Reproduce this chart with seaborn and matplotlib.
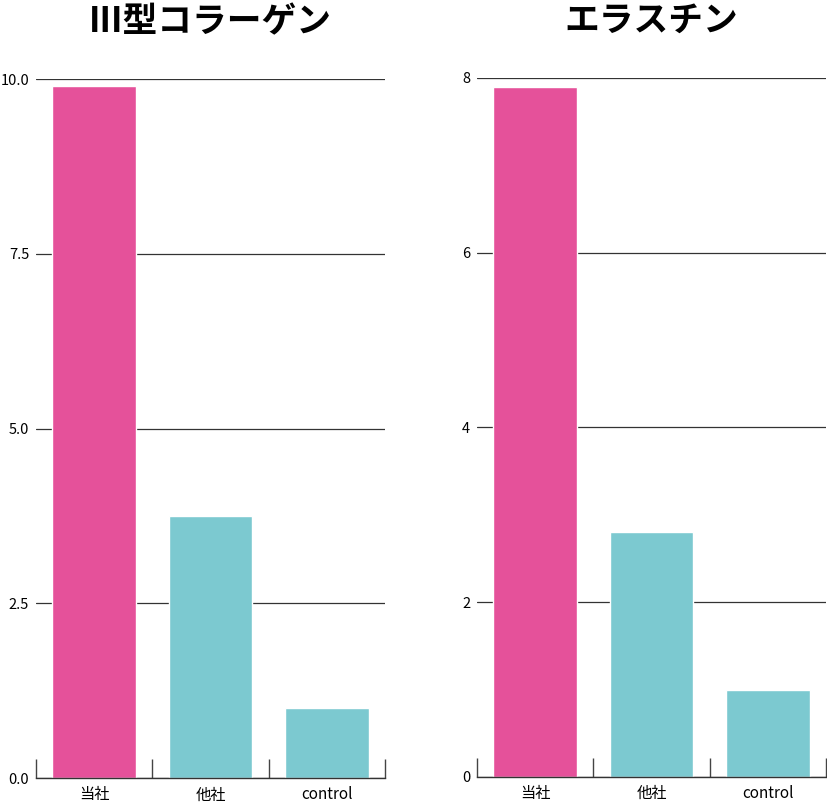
import matplotlib
matplotlib.use("Agg")
import numpy as np
import seaborn as sns
import matplotlib.pyplot as plt
from matplotlib.ticker import FixedLocator

# data
categories = ["当社", "他社", "control"]
collagen_values = [9.9, 3.75, 1.0]
elastin_values = [7.9, 2.8, 1.0]
titles = ["III型コラーゲン", "エラスチン"]
collagen_ticks = [0.0, 2.5, 5.0, 7.5, 10.0]
collagen_labels = ["0.0", "2.5", "5.0", "7.5", "10.0"]
elastin_ticks = [0, 2, 4, 6, 8]
elastin_labels = ["0", "2", "4", "6", "8"]

colors = ["#E5519A", "#7CC9D0", "#7CC9D0"]

sns.set_style("white")
plt.rcParams['font.family'] = ['Noto Sans CJK JP', 'DejaVu Sans']

fig = plt.figure(figsize=(8.27, 8.08), dpi=100)
ax1 = fig.add_axes([0.0435, 0.0371, 0.422, 0.8651])
ax2 = fig.add_axes([0.5768, 0.0384, 0.422, 0.8651])

panels = [
    (ax1, collagen_values, collagen_ticks, collagen_labels, 10.0, titles[0]),
    (ax2, elastin_values, elastin_ticks, elastin_labels, 8.0, titles[1]),
]

for ax, vals, ticks, labels, top, title in panels:
    sns.barplot(x=categories, y=vals, hue=categories, palette=colors,
                saturation=1, width=0.72, legend=False, ax=ax, zorder=2)
    ax.set_xlim(-0.5, 2.5)
    ax.set_ylim(0, top)
    ax.set_yticks(ticks)
    ax.set_yticklabels(labels, fontsize=10.5)
    ax.yaxis.grid(True, color="#333333", linewidth=0.9, zorder=0)
    ax.set_axisbelow(True)
    for s in ["top", "right", "left"]:
        ax.spines[s].set_visible(False)
    ax.spines["bottom"].set_color("#333333")
    ax.spines["bottom"].set_linewidth(1.0)
    ax.tick_params(axis="y", length=0, pad=5, labelcolor="black")
    ax.tick_params(axis="x", which="major", length=0, labelsize=11, pad=6,
                   labelcolor="black")
    ax.xaxis.set_minor_locator(FixedLocator([-0.5, 0.5, 1.5, 2.5]))
    ax.tick_params(axis="x", which="minor", direction="in", length=14,
                   width=1.0, color="#444444", bottom=True)
    ax.set_xlabel("")
    ax.set_ylabel("")
    ax.set_title(title, fontsize=25, fontweight="bold", pad=34, color="black")

fig.savefig("out.png", dpi=100)
